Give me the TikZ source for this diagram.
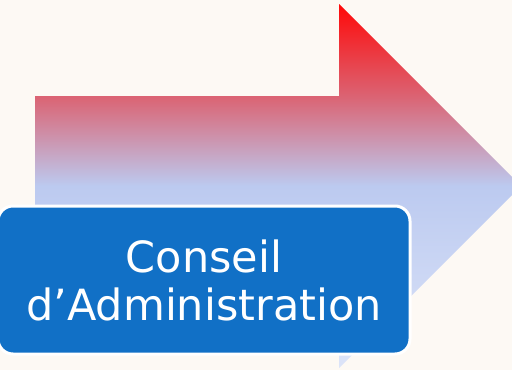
\documentclass[tikz,border=0pt]{standalone}
\usepackage{fontspec}
\setsansfont{DejaVu Sans}
\usetikzlibrary{positioning}

\definecolor{bgcream}{HTML}{FDF9F4}
\definecolor{arrowred}{HTML}{FF0808}
\definecolor{arrowrose}{HTML}{DA6676}
\definecolor{arrowmid}{HTML}{BCCAF0}
\definecolor{arrowlow}{HTML}{DCE4F8}
\definecolor{boxblue}{HTML}{1170C6}

\pgfdeclareverticalshading{arrowshade}{100bp}{color(0bp)=(arrowlow); color(25bp)=(arrowlow); color(50bp)=(arrowmid); color(62bp)=(arrowrose); color(75bp)=(arrowred); color(100bp)=(arrowred)}

\begin{document}
\begin{tikzpicture}[x=1pt,y=-1pt,
    box/.style={draw=white, line width=3pt, fill=boxblue, rounded corners=15pt,
        minimum width=412pt, minimum height=148pt, inner sep=0pt,
        text=white, align=center, font=\sffamily\fontsize{43}{48}\selectfont}]
    \fill[bgcream] (0,0) rectangle (512,370);
    \useasboundingbox (0,0) rectangle (512,370);
    \clip (0,0) rectangle (512,370);
    % big arrow
    \shade[shading=arrowshade] (35,96) -- (339,96) -- (339,4) -- (521,186)
        -- (339,368) -- (339,276) -- (35,276) -- cycle;
    \node[box] at (204,280) (ca) {Conseil\\d’Administration};
\end{tikzpicture}
\end{document}
